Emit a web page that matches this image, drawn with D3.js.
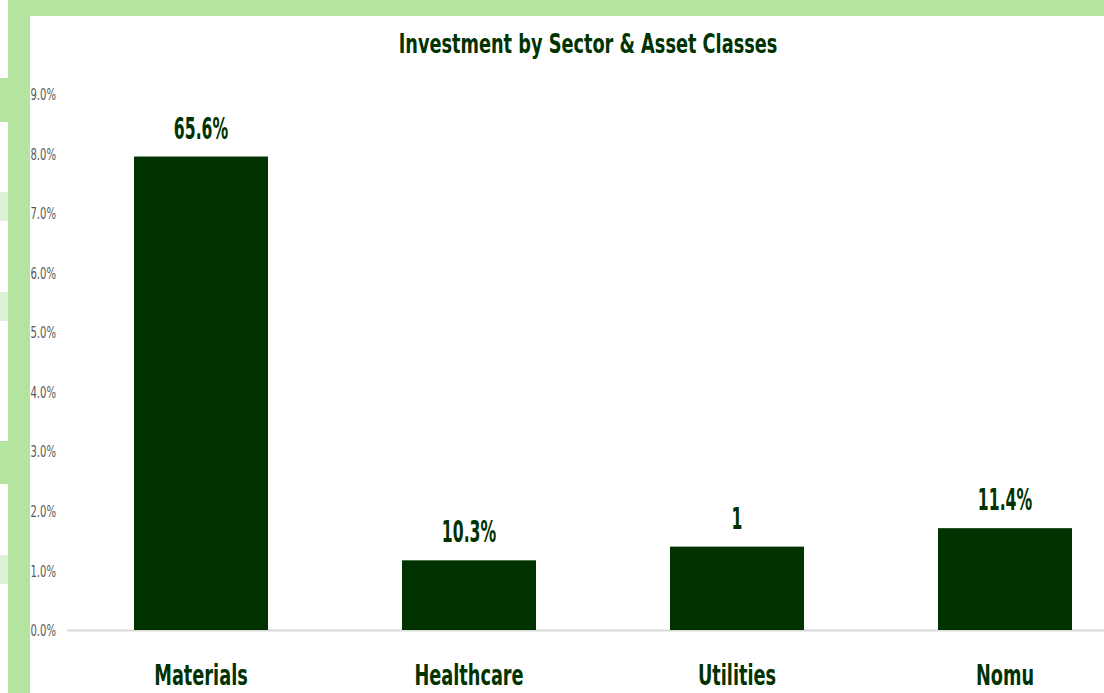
<!DOCTYPE html>
<html>
<head>
<meta charset="utf-8">
<script src="https://cdn.jsdelivr.net/npm/d3@7"></script>
<style>
  html, body { margin: 0; padding: 0; background: #fff; }
  svg { display: block; }
</style>
</head>
<body>
<div id="chart"></div>
<script>
(function() {
    var width = 1104,
        height = 693;

    // chart data
    var categories = ["Materials", "Healthcare", "Utilities", "Nomu"];
    var values = [7.95, 1.17, 1.4, 1.71];
    var valueLabels = ["65.6%", "10.3%", "1", "11.4%"];
    var yTicks = [0, 1, 2, 3, 4, 5, 6, 7, 8, 9];
    var title = "Investment by Sector & Asset Classes";

    var green = "#003300",
        band = "#b3e5a0",
        pale = "#dcf2d2";

    // no narrow humanist font available, so squeeze the condensed one
    var fontFamily = "'DejaVu Sans Condensed', 'DejaVu Sans', sans-serif";

    var svg = d3.select("#chart")
        .append("svg")
        .attr("width", width)
        .attr("height", height);

    // page frame: green strips around the white panel
    svg.append("rect").attr("x", 0).attr("y", 0).attr("width", width).attr("height", height).style("fill", "#fff");
    svg.append("rect").attr("x", 8).attr("y", 0).attr("width", width - 8).attr("height", 16).style("fill", band);
    svg.append("rect").attr("x", 8).attr("y", 0).attr("width", 22).attr("height", height).style("fill", band);

    // little patches at the far left edge
    var patches = [[78, 44, band], [192, 29, pale], [292, 29, pale], [441, 43, band], [555, 29, pale]];
    svg.selectAll("rect.patch")
        .data(patches)
        .enter()
        .append("rect")
        .attr("class", "patch")
        .attr("x", 0)
        .attr("y", function(d) { return d[0]; })
        .attr("width", 8)
        .attr("height", function(d) { return d[1]; })
        .style("fill", function(d) { return d[2]; });

    var x = d3.scaleBand()
        .domain(categories)
        .range([67, 1139])
        .paddingInner(0.5)
        .paddingOuter(0.25);

    var y = d3.scaleLinear()
        .domain([0, 9])
        .range([630, 94]);

    // y axis labels (no line, no ticks)
    var yAxis = d3.axisLeft(y)
        .tickValues(yTicks)
        .tickSize(0)
        .tickPadding(0)
        .tickFormat(function(d) { return d3.format(".1f")(d) + "%"; });

    var gy = svg.append("g")
        .attr("transform", "translate(56,0)")
        .call(yAxis);
    gy.select(".domain").remove();
    gy.selectAll(".tick text")
        .style("font-family", fontFamily)
        .style("font-size", "16px")
        .style("fill", "#595959")
        .attr("x", 0)
        .attr("dy", "0.35em")
        .attr("transform", "scale(0.7,1)");

    // baseline
    svg.append("line")
        .attr("x1", 67)
        .attr("x2", width)
        .attr("y1", y(0) + 0.5)
        .attr("y2", y(0) + 0.5)
        .style("stroke", "#d9d9d9")
        .style("stroke-width", 2);

    // bars
    svg.append("g")
        .selectAll("rect")
        .data(values)
        .enter()
        .append("rect")
        .attr("x", function(d, i) { return x(categories[i]); })
        .attr("y", function(d) { return y(d); })
        .attr("width", x.bandwidth())
        .attr("height", function(d) { return y(0) - y(d); })
        .style("fill", green);

    // value labels above bars
    svg.append("g")
        .selectAll("text")
        .data(values)
        .enter()
        .append("text")
        .attr("transform", function(d, i) {
            return "translate(" + (x(categories[i]) + x.bandwidth() / 2) + "," + (y(d) - 18) + ") scale(0.58,1)";
        })
        .style("text-anchor", "middle")
        .style("font-family", fontFamily)
        .style("font-weight", "bold")
        .style("font-size", "30px")
        .style("fill", green)
        .text(function(d, i) { return valueLabels[i]; });

    // category labels
    svg.append("g")
        .selectAll("text")
        .data(categories)
        .enter()
        .append("text")
        .attr("transform", function(d) {
            return "translate(" + (x(d) + x.bandwidth() / 2) + ",685) scale(0.68,1)";
        })
        .style("text-anchor", "middle")
        .style("font-family", fontFamily)
        .style("font-weight", "bold")
        .style("font-size", "29px")
        .style("fill", green)
        .text(function(d) { return d; });

    // title
    svg.append("text")
        .attr("transform", "translate(588,53) scale(0.73,1)")
        .style("text-anchor", "middle")
        .style("font-family", fontFamily)
        .style("font-weight", "bold")
        .style("font-size", "27px")
        .style("fill", green)
        .text(title);
})();
</script>
</body>
</html>
